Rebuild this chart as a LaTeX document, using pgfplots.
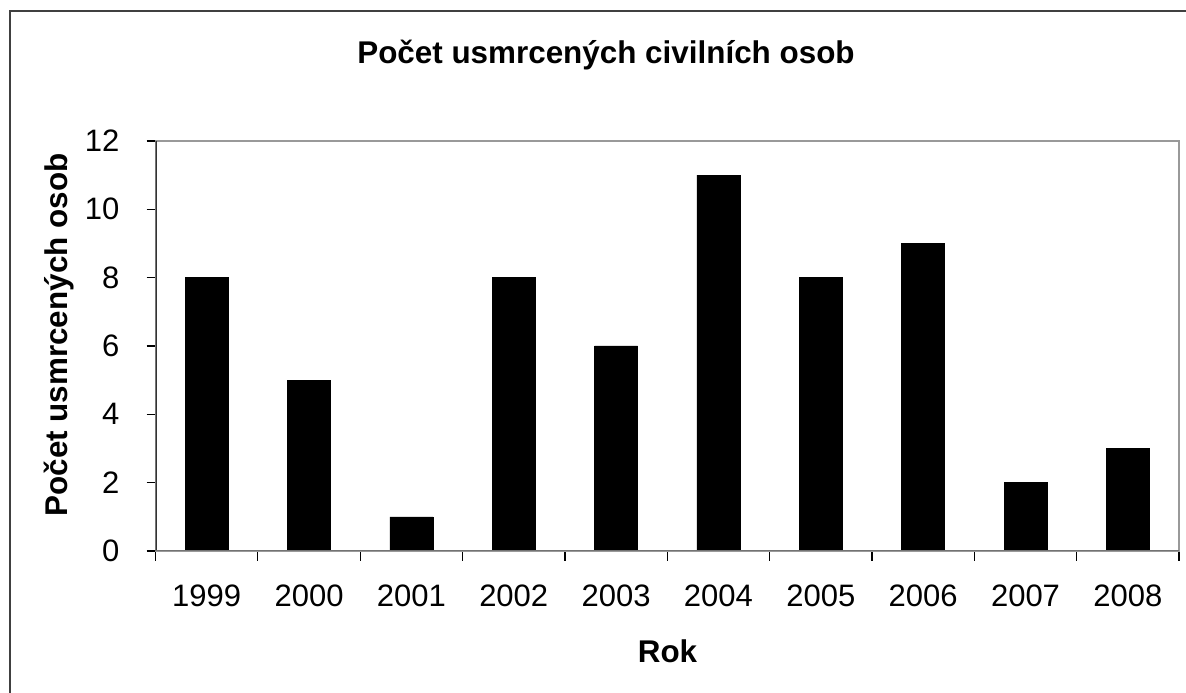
\documentclass[border=0pt]{standalone}
\usepackage{fontspec}
\setmainfont{Liberation Sans}
\usepackage{pgfplots}
\pgfplotsset{compat=1.18}
\begin{document}
\begin{tikzpicture}[font=\fontsize{31bp}{36bp}\selectfont]
\path[use as bounding box] (0,0) rectangle (1186bp,693bp);
\draw[black!75, line width=1.5bp] (10bp,0) -- (10bp,682bp) -- (1186bp,682bp);
\begin{axis}[
 at={(155.5bp,142bp)}, anchor=south west,
 scale only axis, width=1023.5bp, height=410bp,
 xmin=-0.5, xmax=9.5, ymin=0, ymax=12,
 ytick={0,2,...,12},
 xtick={0,...,9},
 xticklabels={1999,2000,2001,2002,2003,2004,2005,2006,2007,2008},
 major x tick style={draw=none},
 minor xtick={-0.5,0.5,...,9.5},
 tick align=outside, tick pos=left,
 major tick length=9bp, minor tick length=10bp,
 tick style={black, line width=1.2bp},
 minor tick style={black, line width=1.2bp},
 axis line style={draw=black!40, line width=1.5bp},
 yticklabel style={anchor=east, inner sep=0pt, xshift=-27bp},
 xticklabel style={anchor=north, inner sep=0pt, yshift=-25bp},
 /pgf/number format/assume math mode=true,
 ybar, bar width=0.42,
]
\addplot[fill=black, draw=black] coordinates {(0,8) (1,5) (2,1) (3,8) (4,6) (5,11) (6,8) (7,9) (8,2) (9,3)};
\draw[black!80, line width=2bp] (axis cs:-0.5,0) -- (axis cs:-0.5,12);
\draw[black!55, line width=1.5bp] (axis cs:-0.5,0) -- (axis cs:9.5,0);
\end{axis}
\node[anchor=base, font=\fontsize{31.4bp}{36bp}\selectfont\bfseries] at (606bp,629bp) {Počet usmrcených civilních osob};
\node[anchor=base, rotate=90, font=\fontsize{31.4bp}{36bp}\selectfont\bfseries] at (67bp,358bp) {Počet usmrcených osob};
\node[anchor=base, font=\fontsize{31.4bp}{36bp}\selectfont\bfseries] at (667.5bp,31bp) {Rok};
\end{tikzpicture}
\end{document}
